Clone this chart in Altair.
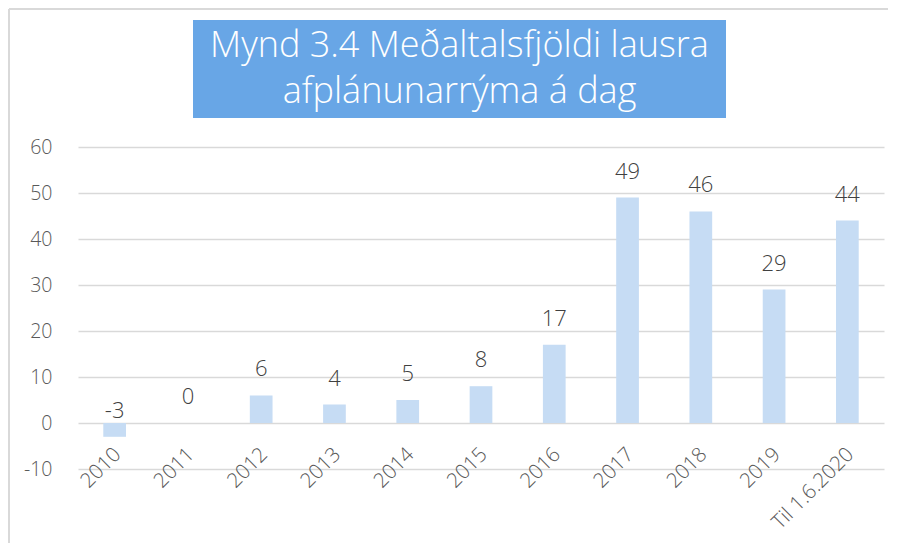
import altair as alt
import pandas as pd

categories = ["2010", "2011", "2012", "2013", "2014", "2015", "2016", "2017", "2018", "2019", "Til 1.6.2020"]
values = [-3, 0, 6, 4, 5, 8, 17, 49, 46, 29, 44]
y_ticks = [-10, 0, 10, 20, 30, 40, 50, 60]
title_lines = ["Mynd 3.4 Meðaltalsfjöldi lausra", "afplánunarrýma á dag"]

df = pd.DataFrame({"cat": categories, "val": values})
df["txt"] = [str(v) for v in values]
one = pd.DataFrame({"k": [0]})

FONT = "Open Sans"
GRID = "#d9d9d9"

x_enc = alt.X(
    "cat:N", sort=categories,
    scale=alt.Scale(paddingInner=0.69, paddingOuter=0.345),
    axis=alt.Axis(title=None, labelAngle=-45, labelAlign="right", labelBaseline="top",
                  domain=False, ticks=False, offset=-46, labelPadding=21, labelOffset=-4,
                  labelFont=FONT, labelFontSize=20.5, labelColor="#595959", labelFontWeight=300),
)
y_enc = alt.Y(
    "val:Q",
    scale=alt.Scale(domain=[-10, 60], nice=False, zero=False),
    axis=alt.Axis(title=None, values=y_ticks, grid=True, gridColor=GRID, gridWidth=1.5,
                  domain=False, ticks=False, labelPadding=26, labelExpr="'' + datum.value",
                  labelFont=FONT, labelFontSize=19.5, labelColor="#595959", labelFontWeight=300),
)

bars = alt.Chart(df).mark_bar(color="#c6dcf4").encode(x=x_enc, y=y_enc)

labels = alt.Chart(df).mark_text(
    font=FONT, fontSize=22, fontWeight=300, color="#404040", baseline="alphabetic", dy=-19
).encode(x=alt.X("cat:N", sort=categories), y=alt.Y("val:Q"), text=alt.Text("txt:N"))

title_box = alt.Chart(one).mark_rect(color="#68a6e6").encode(
    x=alt.value(115), x2=alt.value(648), y=alt.value(-127), y2=alt.value(-29)
)
title1 = alt.Chart(one).mark_text(
    text=title_lines[0], font=FONT, fontSize=36, fontWeight=300, color="white", baseline="middle", align="center"
).encode(x=alt.value(381.5), y=alt.value(-101))
title2 = alt.Chart(one).mark_text(
    text=title_lines[1], font=FONT, fontSize=36, fontWeight=300, color="white", baseline="middle", align="center"
).encode(x=alt.value(381.5), y=alt.value(-55))

border_left = alt.Chart(one).mark_rule(color=GRID, strokeWidth=2).encode(
    x=alt.value(-69), y=alt.value(-138), y2=alt.value(400)
)
border_top = alt.Chart(one).mark_rule(color=GRID, strokeWidth=2).encode(
    x=alt.value(-69), x2=alt.value(810), y=alt.value(-138)
)

chart = alt.layer(border_left, border_top, title_box, title1, title2, bars, labels).properties(
    width=806, height=322,
    autosize=alt.AutoSizeParams(type="none"),
    padding={"left": 70, "top": 139, "right": 10, "bottom": 74},
).configure_view(stroke=None)

chart.save("out.html", embed_options={"renderer": "svg", "actions": False})
